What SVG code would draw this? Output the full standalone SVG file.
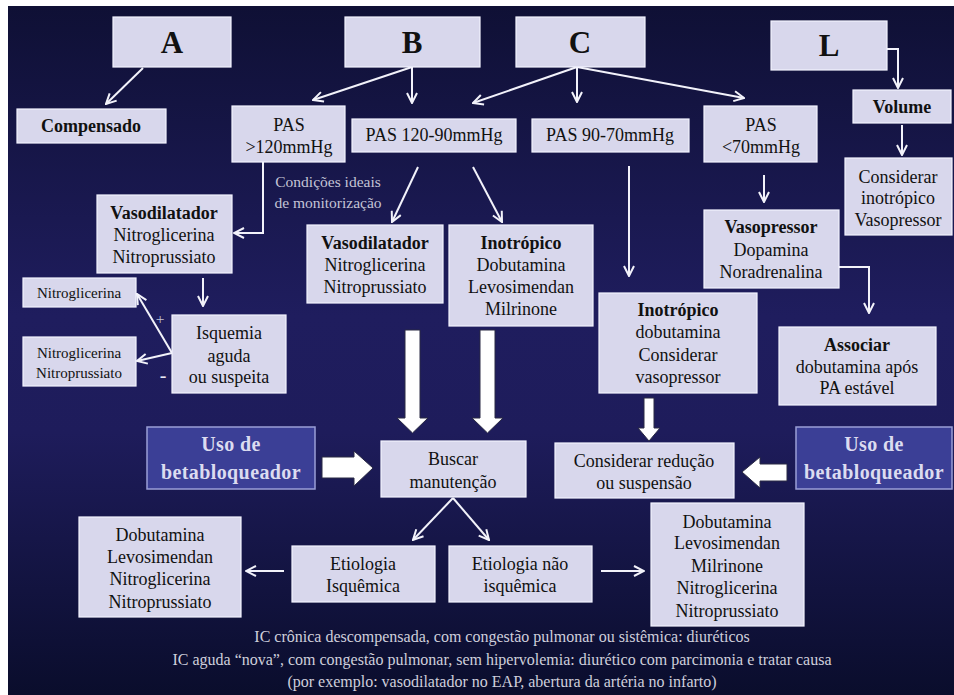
<svg xmlns="http://www.w3.org/2000/svg" width="954" height="695" viewBox="0 0 954 695" font-family="Liberation Serif">
<defs>
<linearGradient id="bg" x1="0" y1="0" x2="0" y2="1">
<stop offset="0" stop-color="#0f1035"/>
<stop offset="0.45" stop-color="#1f1d5e"/>
<stop offset="0.62" stop-color="#1e1c5b"/>
<stop offset="1" stop-color="#0a0d2c"/>
</linearGradient>
<marker id="ah" viewBox="0 0 12 12" refX="11" refY="6" markerWidth="12" markerHeight="12" markerUnits="userSpaceOnUse" orient="auto">
<path d="M1,1 L11,6 L1,11" fill="none" stroke="#f2f2fa" stroke-width="2"/>
</marker>
<style>
.box{fill:#d8d7ec;stroke:#f4f4ff;stroke-width:1.2}
.blue{fill:#3b3f96;stroke:#9a9ed6;stroke-width:1.5}
.t{font-size:18px;text-anchor:middle;fill:#111}
.s{font-size:15px;text-anchor:middle;fill:#111}
.b{font-weight:bold}
.big{font-size:31px;font-weight:bold;text-anchor:middle;fill:#111}
.w{fill:#dcdcf0;font-size:20px;font-weight:bold;letter-spacing:0.4px;text-anchor:middle}
.note{font-size:16px;fill:#cfcfdc;text-anchor:middle}
.gray{font-size:15.5px;fill:#c4c4d6;text-anchor:middle}
.c{fill:none;stroke:#f2f2fa;stroke-width:2}
.blk{fill:#ffffff;stroke:#2a2a44;stroke-width:1}
</style>
</defs>
<rect x="0" y="0" width="954" height="695" fill="#ffffff"/>
<rect x="8" y="6" width="946" height="689" fill="url(#bg)"/>
<g id="connectors">
<line class="c" x1="143" y1="68" x2="106" y2="104" marker-end="url(#ah)"/>
<line class="c" x1="412" y1="67" x2="313" y2="100" marker-end="url(#ah)"/>
<line class="c" x1="412" y1="67" x2="412" y2="103" marker-end="url(#ah)"/>
<line class="c" x1="577" y1="67" x2="473" y2="103" marker-end="url(#ah)"/>
<line class="c" x1="577" y1="67" x2="577" y2="102" marker-end="url(#ah)"/>
<line class="c" x1="577" y1="67" x2="744" y2="98" marker-end="url(#ah)"/>
<polyline class="c" points="885,28 885,49 898,49 898,88" marker-end="url(#ah)"/>
<line class="c" x1="902" y1="125" x2="902" y2="155" marker-end="url(#ah)"/>
<line class="c" x1="764" y1="175" x2="764" y2="202" marker-end="url(#ah)"/>
<polyline class="c" points="263,162 263,233 234,233" marker-end="url(#ah)"/>
<line class="c" x1="418" y1="167" x2="392" y2="222" marker-end="url(#ah)"/>
<line class="c" x1="473" y1="167" x2="502" y2="222" marker-end="url(#ah)"/>
<line class="c" x1="629" y1="166" x2="629" y2="276" marker-end="url(#ah)"/>
<polyline class="c" points="839,267 869,267 869,313" marker-end="url(#ah)"/>
<line class="c" x1="203" y1="278" x2="203" y2="306" marker-end="url(#ah)"/>
<line class="c" x1="172" y1="353" x2="137" y2="294" marker-end="url(#ah)"/>
<line class="c" x1="172" y1="353" x2="137" y2="361" marker-end="url(#ah)"/>
<line class="c" x1="453" y1="498" x2="413" y2="540" marker-end="url(#ah)"/>
<line class="c" x1="453" y1="498" x2="489" y2="540" marker-end="url(#ah)"/>
<line class="c" x1="284" y1="571" x2="246" y2="571" marker-end="url(#ah)"/>
<line class="c" x1="601" y1="571" x2="644" y2="571" marker-end="url(#ah)"/>
<polygon class="blk" points="405,330 420,330 420,418 428,418 412.5,433 397,418 405,418"/>
<polygon class="blk" points="480,330 495,330 495,418 503,418 487.5,433 472,418 480,418"/>
<polygon class="blk" points="644,398 654,398 654,428 660,428 649,441 638,428 644,428"/>
<polygon class="blk" points="322,457 354,457 354,451 373,468 354,486 354,478 322,478"/>
<polygon class="blk" points="787,464 760,464 760,457 742,472 760,488 760,481 787,481"/>
<text font-family="Liberation Serif" class="gray" x="160" y="324" font-size="20">+</text>
<text font-family="Liberation Serif" x="163" y="382" fill="#e8e8f4" font-size="20" text-anchor="middle">-</text>
</g>

<g id="nA"><rect class="box" x="113" y="17" width="118" height="50"/><text font-family="Liberation Serif" class="big" x="172" y="53">A</text></g>
<g id="nB"><rect class="box" x="345" y="17" width="135" height="50"/><text font-family="Liberation Serif" class="big" x="412" y="53">B</text></g>
<g id="nC"><rect class="box" x="516" y="17" width="129" height="50"/><text font-family="Liberation Serif" class="big" x="580" y="53">C</text></g>
<g id="nL"><rect class="box" x="771" y="21" width="116" height="49"/><text font-family="Liberation Serif" class="big" x="829" y="56">L</text></g>

<g id="compensado"><rect class="box" x="17" y="109" width="149" height="34"/><text font-family="Liberation Serif" class="t b" x="91" y="132" font-size="19">Compensado</text></g>
<g id="pas120"><rect class="box" x="232" y="106" width="113" height="56"/><text font-family="Liberation Serif" class="t" x="289" y="131">PAS</text><text font-family="Liberation Serif" class="t" x="289" y="153">&gt;120mmHg</text></g>
<g id="pas12090"><rect class="box" x="352" y="119" width="164" height="33"/><text font-family="Liberation Serif" class="t" x="434" y="141">PAS 120-90mmHg</text></g>
<g id="pas9070"><rect class="box" x="532" y="119" width="157" height="33"/><text font-family="Liberation Serif" class="t" x="610" y="141">PAS 90-70mmHg</text></g>
<g id="pas70"><rect class="box" x="704" y="106" width="113" height="56"/><text font-family="Liberation Serif" class="t" x="761" y="131">PAS</text><text font-family="Liberation Serif" class="t" x="761" y="153">&lt;70mmHg</text></g>
<g id="volume"><rect class="box" x="853" y="90" width="98" height="33"/><text font-family="Liberation Serif" class="t b" x="902" y="113">Volume</text></g>
<g id="considerarL"><rect class="box" x="845" y="158" width="107" height="77"/><text font-family="Liberation Serif" class="t" x="898" y="183">Considerar</text><text font-family="Liberation Serif" class="t" x="898" y="204">inotrópico</text><text font-family="Liberation Serif" class="t" x="898" y="226">Vasopressor</text></g>

<g id="cond"><text font-family="Liberation Serif" class="gray" x="328" y="187">Condições ideais</text><text font-family="Liberation Serif" class="gray" x="328" y="208">de monitorização</text></g>

<g id="vasoL"><rect class="box" x="97" y="195" width="135" height="78"/><text font-family="Liberation Serif" class="t b" x="164" y="219">Vasodilatador</text><text font-family="Liberation Serif" class="t" x="164" y="241">Nitroglicerina</text><text font-family="Liberation Serif" class="t" x="164" y="263">Nitroprussiato</text></g>
<g id="vasoM"><rect class="box" x="307" y="225" width="136" height="78"/><text font-family="Liberation Serif" class="t b" x="375" y="249">Vasodilatador</text><text font-family="Liberation Serif" class="t" x="375" y="271">Nitroglicerina</text><text font-family="Liberation Serif" class="t" x="375" y="293">Nitroprussiato</text></g>
<g id="inoM"><rect class="box" x="449" y="225" width="144" height="101"/><text font-family="Liberation Serif" class="t b" x="521" y="249">Inotrópico</text><text font-family="Liberation Serif" class="t" x="521" y="271">Dobutamina</text><text font-family="Liberation Serif" class="t" x="521" y="293">Levosimendan</text><text font-family="Liberation Serif" class="t" x="521" y="315">Milrinone</text></g>
<g id="vasop"><rect class="box" x="704" y="210" width="135" height="78"/><text font-family="Liberation Serif" class="t b" x="771" y="233">Vasopressor</text><text font-family="Liberation Serif" class="t" x="771" y="256">Dopamina</text><text font-family="Liberation Serif" class="t" x="771" y="278">Noradrenalina</text></g>

<g id="nitro1"><rect class="box" x="23" y="278" width="113" height="29"/><text font-family="Liberation Serif" class="s" x="79" y="298">Nitroglicerina</text></g>
<g id="nitro2"><rect class="box" x="23" y="337" width="113" height="49"/><text font-family="Liberation Serif" class="s" x="79" y="358">Nitroglicerina</text><text font-family="Liberation Serif" class="s" x="79" y="378">Nitroprussiato</text></g>
<g id="isquemia"><rect class="box" x="172" y="315" width="114" height="78"/><text font-family="Liberation Serif" class="t" x="229" y="339">Isquemia</text><text font-family="Liberation Serif" class="t" x="229" y="362">aguda</text><text font-family="Liberation Serif" class="t" x="229" y="383">ou suspeita</text></g>

<g id="inoC"><rect class="box" x="599" y="293" width="158" height="100"/><text font-family="Liberation Serif" class="t b" x="678" y="316">Inotrópico</text><text font-family="Liberation Serif" class="t" x="678" y="338">dobutamina</text><text font-family="Liberation Serif" class="t" x="678" y="361">Considerar</text><text font-family="Liberation Serif" class="t" x="678" y="383">vasopressor</text></g>
<g id="associar"><rect class="box" x="779" y="327" width="157" height="78"/><text font-family="Liberation Serif" class="t b" x="857" y="351">Associar</text><text font-family="Liberation Serif" class="t" x="857" y="373">dobutamina após</text><text font-family="Liberation Serif" class="t" x="857" y="394">PA estável</text></g>

<g id="betaL"><rect class="blue" x="147" y="427" width="168" height="62"/><text font-family="Liberation Serif" class="w" x="231" y="451">Uso de</text><text font-family="Liberation Serif" class="w" x="231" y="479">betabloqueador</text></g>
<g id="betaR"><rect class="blue" x="796" y="427" width="156" height="62"/><text font-family="Liberation Serif" class="w" x="874" y="451">Uso de</text><text font-family="Liberation Serif" class="w" x="874" y="479">betabloqueador</text></g>
<g id="buscar"><rect class="box" x="381" y="441" width="145" height="56"/><text font-family="Liberation Serif" class="t" x="453" y="465">Buscar</text><text font-family="Liberation Serif" class="t" x="453" y="488">manutenção</text></g>
<g id="reducao"><rect class="box" x="555" y="443" width="179" height="55"/><text font-family="Liberation Serif" class="t" x="644" y="467">Considerar redução</text><text font-family="Liberation Serif" class="t" x="644" y="489">ou suspensão</text></g>

<g id="etIsq"><rect class="box" x="292" y="546" width="143" height="56"/><text font-family="Liberation Serif" class="t" x="363" y="570">Etiologia</text><text font-family="Liberation Serif" class="t" x="363" y="592">Isquêmica</text></g>
<g id="etNao"><rect class="box" x="449" y="546" width="143" height="56"/><text font-family="Liberation Serif" class="t" x="520" y="570">Etiologia não</text><text font-family="Liberation Serif" class="t" x="520" y="592">isquêmica</text></g>
<g id="listL"><rect class="box" x="79" y="517" width="162" height="100"/><text font-family="Liberation Serif" class="t" x="160" y="541">Dobutamina</text><text font-family="Liberation Serif" class="t" x="160" y="563">Levosimendan</text><text font-family="Liberation Serif" class="t" x="160" y="585">Nitroglicerina</text><text font-family="Liberation Serif" class="t" x="160" y="608">Nitroprussiato</text></g>
<g id="listR"><rect class="box" x="651" y="503" width="153" height="123"/><text font-family="Liberation Serif" class="t" x="727" y="528">Dobutamina</text><text font-family="Liberation Serif" class="t" x="727" y="549">Levosimendan</text><text font-family="Liberation Serif" class="t" x="727" y="572">Milrinone</text><text font-family="Liberation Serif" class="t" x="727" y="594">Nitroglicerina</text><text font-family="Liberation Serif" class="t" x="727" y="617">Nitroprussiato</text></g>

<g id="notes">
<text font-family="Liberation Serif" class="note" x="502" y="642">IC crônica descompensada, com congestão pulmonar ou sistêmica: diuréticos</text>
<text font-family="Liberation Serif" class="note" x="502" y="665">IC aguda “nova”, com congestão pulmonar, sem hipervolemia: diurético com parcimonia e tratar causa</text>
<text font-family="Liberation Serif" class="note" x="502" y="687">(por exemplo: vasodilatador no EAP, abertura da artéria no infarto)</text>
</g>
</svg>
